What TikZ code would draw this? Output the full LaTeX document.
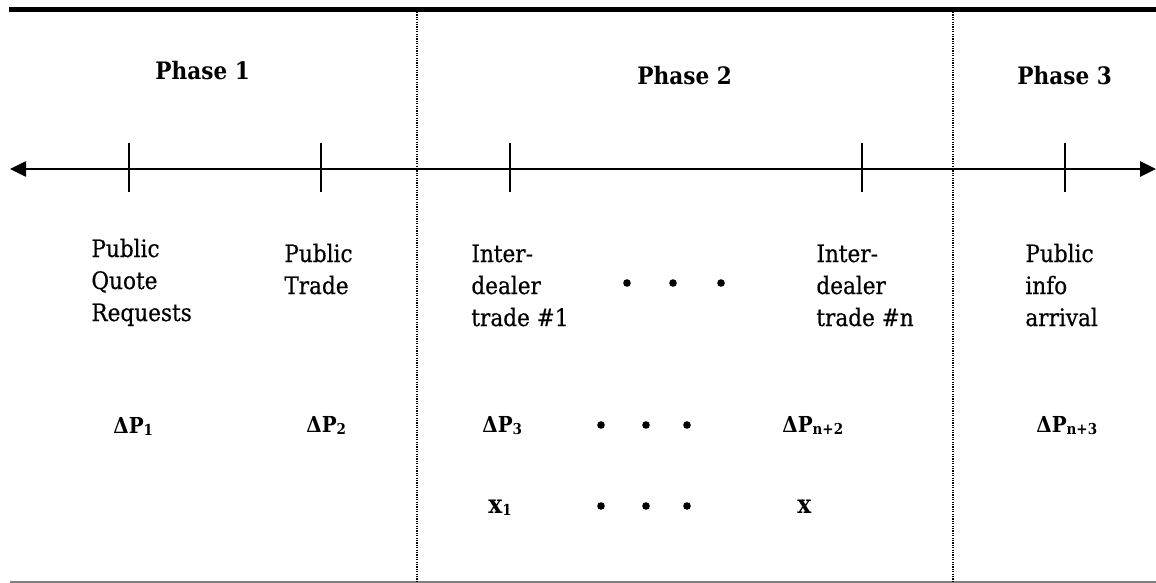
\documentclass[tikz,border=0pt]{standalone}
\usepackage{fontspec}
\setmainfont{DejaVu Serif}[FakeStretch=0.9, UprightFeatures={FakeBold=0.5}]
\usetikzlibrary{arrows.meta}
\newcommand\mysub[1]{\raisebox{-1pt}{\fontsize{7.5}{7.5}\selectfont\bfseries #1}}
\begin{document}
\begin{tikzpicture}[x=0.5pt,y=-0.5pt,
  lbl/.style={font=\fontsize{12}{16}\selectfont, inner sep=0, anchor=base west, align=left},
  phase/.style={font=\fontsize{12}{16}\selectfont\bfseries, inner sep=0, anchor=base west},
  var/.style={font=\fontsize{11}{12}\selectfont\bfseries, inner sep=0, anchor=base west},
  xvar/.style={var, font=\fontsize{13}{13}\selectfont\bfseries},
  dotn/.style={circle, fill, inner sep=0, minimum size=3.8pt},
  tickln/.style={line width=0.9pt},
  sepln/.style={line width=0.6pt, dash pattern=on 0.6pt off 0.6pt},
  axisln/.style={line width=1.3pt, {Triangle[length=8pt,width=7.5pt]}-{Triangle[length=8pt,width=7.5pt]}}
]
\useasboundingbox (0,0) rectangle (1156,583);
% frame lines
\coordinate (topL) at (9,9.5);
\coordinate (topR) at (1156,9.5);
\draw[line width=2.5pt] (topL) -- (topR);
\coordinate (botL) at (10,582);
\coordinate (botR) at (1156,582);
\draw[gray, line width=0.6pt] (botL) -- (botR);
% phase separators
\coordinate (s1a) at (417,12);
\coordinate (s1b) at (417,583);
\coordinate (s2a) at (953,12);
\coordinate (s2b) at (953,583);
\draw[sepln] (s1a) -- (s1b);
\draw[sepln] (s2a) -- (s2b);
% axis
\coordinate (axL) at (10,169);
\coordinate (axR) at (1156,169);
\draw[axisln] (axL) -- (axR);
% ticks
\foreach \n/\x in {1/129,2/321,3/510,4/862,5/1065}{
  \coordinate (t\n a) at (\x,143);
  \coordinate (t\n b) at (\x,192);
  \draw[tickln] (t\n a) -- (t\n b);
}
% phase labels
\node[phase] (ph1) at (155,80) {Phase 1};
\node[phase] (ph2) at (637,85) {Phase 2};
\node[phase] (ph3) at (1017,85) {Phase 3};
% event labels (anchored at the baseline of the last line)
\node[lbl] (ev1) at (91,321) {Public\\Quote\\Requests};
\node[lbl] (ev2) at (284,294) {Public\\Trade};
\node[lbl] (ev3) at (471,326) {Inter-\\dealer\\trade \#1};
\node[lbl] (ev4) at (816,326) {Inter-\\dealer\\trade \#n};
\node[lbl] (ev5) at (1025,326) {Public\\info\\arrival};
% price changes
\node[var] (dp1) at (113,433) {ΔP\mysub{1}};
\node[var] (dp2) at (306,432) {ΔP\mysub{2}};
\node[var] (dp3) at (482,432) {ΔP\mysub{3}};
\node[var] (dpn2) at (782,432) {ΔP\mysub{n+2}};
\node[var] (dpn3) at (1036,432) {ΔP\mysub{n+3}};
% order flows
\node[xvar] (x1) at (488,513) {x\mysub{1}};
\node[xvar] (xn) at (797,513) {x};
% ellipsis dots
\node[dotn] (da1) at (627,283) {};
\node[dotn] (da2) at (673,283) {};
\node[dotn] (da3) at (721,283) {};
\node[dotn] (db1) at (601,425) {};
\node[dotn] (db2) at (646,425) {};
\node[dotn] (db3) at (687,425) {};
\node[dotn] (dc1) at (601,506) {};
\node[dotn] (dc2) at (646,506) {};
\node[dotn] (dc3) at (687,506) {};
\end{tikzpicture}
\end{document}
